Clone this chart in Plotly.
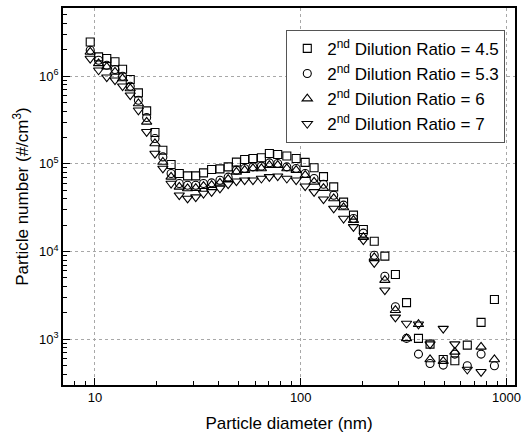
import plotly.graph_objects as go

# Particle diameter bins (nm)
diameter = [9.49, 10.42, 11.42, 12.52, 13.63, 14.85, 16.27, 17.84, 19.58, 21.39,
            23.45, 25.7, 28.2, 30.9, 33.7, 36.9, 40.5, 44.4, 48.7, 53.4,
            58.6, 64.4, 70.4, 77.3, 85.6, 95.0, 105.1, 116.1, 129.0, 144.6,
            161.5, 180.4, 201.5, 227.6, 256.3, 288.4, 326.6, 373.3, 424.9, 492.4,
            560.7, 644.5, 752.0, 873.0]

# Number concentration (#/cm^3) for each 2nd dilution ratio
ratio_45 = [2.46e6, 1.66e6, 1.59e6, 1.46e6, 1.20e6, 9.17e5, 6.45e5, 4.02e5, 2.28e5, 1.43e5,
            9.84e4, 7.77e4, 7.29e4, 7.29e4, 7.89e4, 8.63e4, 8.77e4, 9.23e4, 1.045e5, 1.12e5,
            1.15e5, 1.175e5, 1.31e5, 1.28e5, 1.23e5, 1.15e5, 1.04e5, 9.04e4, 7.14e4, 5.46e4,
            3.66e4, 2.60e4, 1.78e4, 1.31e4, 8.85e3, 5.47e3, 2.61e3, 1.02e3, 877, 587,
            566, 855, 1553, 2838]
ratio_53 = [1.98e6, 1.52e6, 1.335e6, 1.19e6, 1.0e6, 7.69e5, 5.32e5, 3.38e5, 1.95e5, 1.20e5,
            7.77e4, 5.97e4, 5.71e4, 5.71e4, 5.97e4, 6.07e4, 6.51e4, 7.05e4, 8.47e4, 8.86e4,
            9.24e4, 9.41e4, 1.026e5, 1.01e5, 9.24e4, 8.86e4, 7.77e4, 6.81e4, 5.86e4, 4.39e4,
            3.38e4, 2.38e4, 1.62e4, 9.08e3, 5.23e3, 2.34e3, 1.02e3, 675, 528, 506,
            675, 497, 675, 497]
ratio_6 = [1.89e6, 1.40e6, 1.28e6, 1.12e6, 9.41e5, 7.24e5, 4.88e5, 3.01e5, 1.71e5, 1.05e5,
           7.10e4, 5.46e4, 5.24e4, 5.28e4, 5.56e4, 5.71e4, 6.07e4, 6.69e4, 8.10e4, 8.47e4,
           8.86e4, 8.86e4, 9.66e4, 9.66e4, 8.86e4, 8.47e4, 7.43e4, 6.23e4, 5.28e4, 4.03e4,
           3.18e4, 2.28e4, 1.46e4, 8.55e3, 4.71e3, 2.14e3, 1.02e3, 1.48e3, 587, 561,
           716, None, 817, 587]
ratio_7 = [1.59e6, 1.17e6, 9.74e5, 9.0e5, 7.69e5, 6.07e5, 4.09e5, 2.32e5, 1.31e5, 8.86e4,
           5.97e4, 4.39e4, 4.03e4, 4.17e4, 4.59e4, 4.79e4, 5.24e4, 5.86e4, 6.34e4, 6.51e4,
           6.51e4, 6.81e4, 7.10e4, 7.23e4, 6.81e4, 6.51e4, 5.56e4, 4.79e4, 3.95e4, 3.10e4,
           2.38e4, 1.91e4, 1.35e4, 7.42e3, 3.62e3, 1.77e3, 1.51e3, 1.48e3, 877, 1.32e3,
           877, 451, 424, None]

series = [
    ("2<sup>nd</sup> Dilution Ratio = 4.5", ratio_45, "square-open", 8),
    ("2<sup>nd</sup> Dilution Ratio = 5.3", ratio_53, "circle-open", 8),
    ("2<sup>nd</sup> Dilution Ratio = 6", ratio_6, "triangle-up-open", 9),
    ("2<sup>nd</sup> Dilution Ratio = 7", ratio_7, "triangle-down-open", 9),
]

fig = go.Figure()
for name, vals, sym, size in series:
    fig.add_trace(go.Scatter(
        x=diameter, y=vals, mode="markers", name=name,
        marker=dict(symbol=sym, size=size, color="black",
                    line=dict(color="black", width=1.1)),
    ))

font = "Arial, Liberation Sans, sans-serif"
grid_major = "#a8a8a8"

axis_common = dict(
    type="log",
    ticks="inside", ticklen=7, tickwidth=1.3, tickcolor="black",
    showline=True, linecolor="black", linewidth=1.6, mirror=True,
    showgrid=True, gridcolor=grid_major, griddash="dot", gridwidth=1,
    minor=dict(ticks="inside", ticklen=4, tickcolor="black", tickwidth=1,
               dtick="D1", showgrid=False),
    tickfont=dict(family=font, size=13, color="black"),
    zeroline=False,
)

fig.update_xaxes(
    range=[0.845, 3.041],
    tickvals=[10, 100, 1000], ticktext=["10", "100", "1000"],
    title=dict(text="Particle diameter (nm)", font=dict(family=font, size=17, color="black"),
               standoff=13),
    **axis_common,
)
fig.update_yaxes(
    range=[2.477, 6.778],
    tickvals=[1e3, 1e4, 1e5, 1e6],
    ticktext=["10<sup>3</sup>", "10<sup>4</sup>", "10<sup>5</sup>", "10<sup>6</sup>"],
    title=dict(text="Particle number (#/cm<sup>3</sup>)",
               font=dict(family=font, size=17, color="black"), standoff=6),
    **axis_common,
)

fig.update_layout(
    width=525, height=436,
    margin=dict(l=63, r=4, t=8, b=51),
    paper_bgcolor="white", plot_bgcolor="white",
    font=dict(family=font, color="black"),
    legend=dict(
        x=0.494, y=0.942, xanchor="left", yanchor="top",
        bgcolor="white", bordercolor="#555555", borderwidth=1,
        font=dict(family=font, size=17, color="black"),
        itemsizing="trace", itemwidth=30, tracegroupgap=0,
    ),
)

fig.write_html("out.html")
